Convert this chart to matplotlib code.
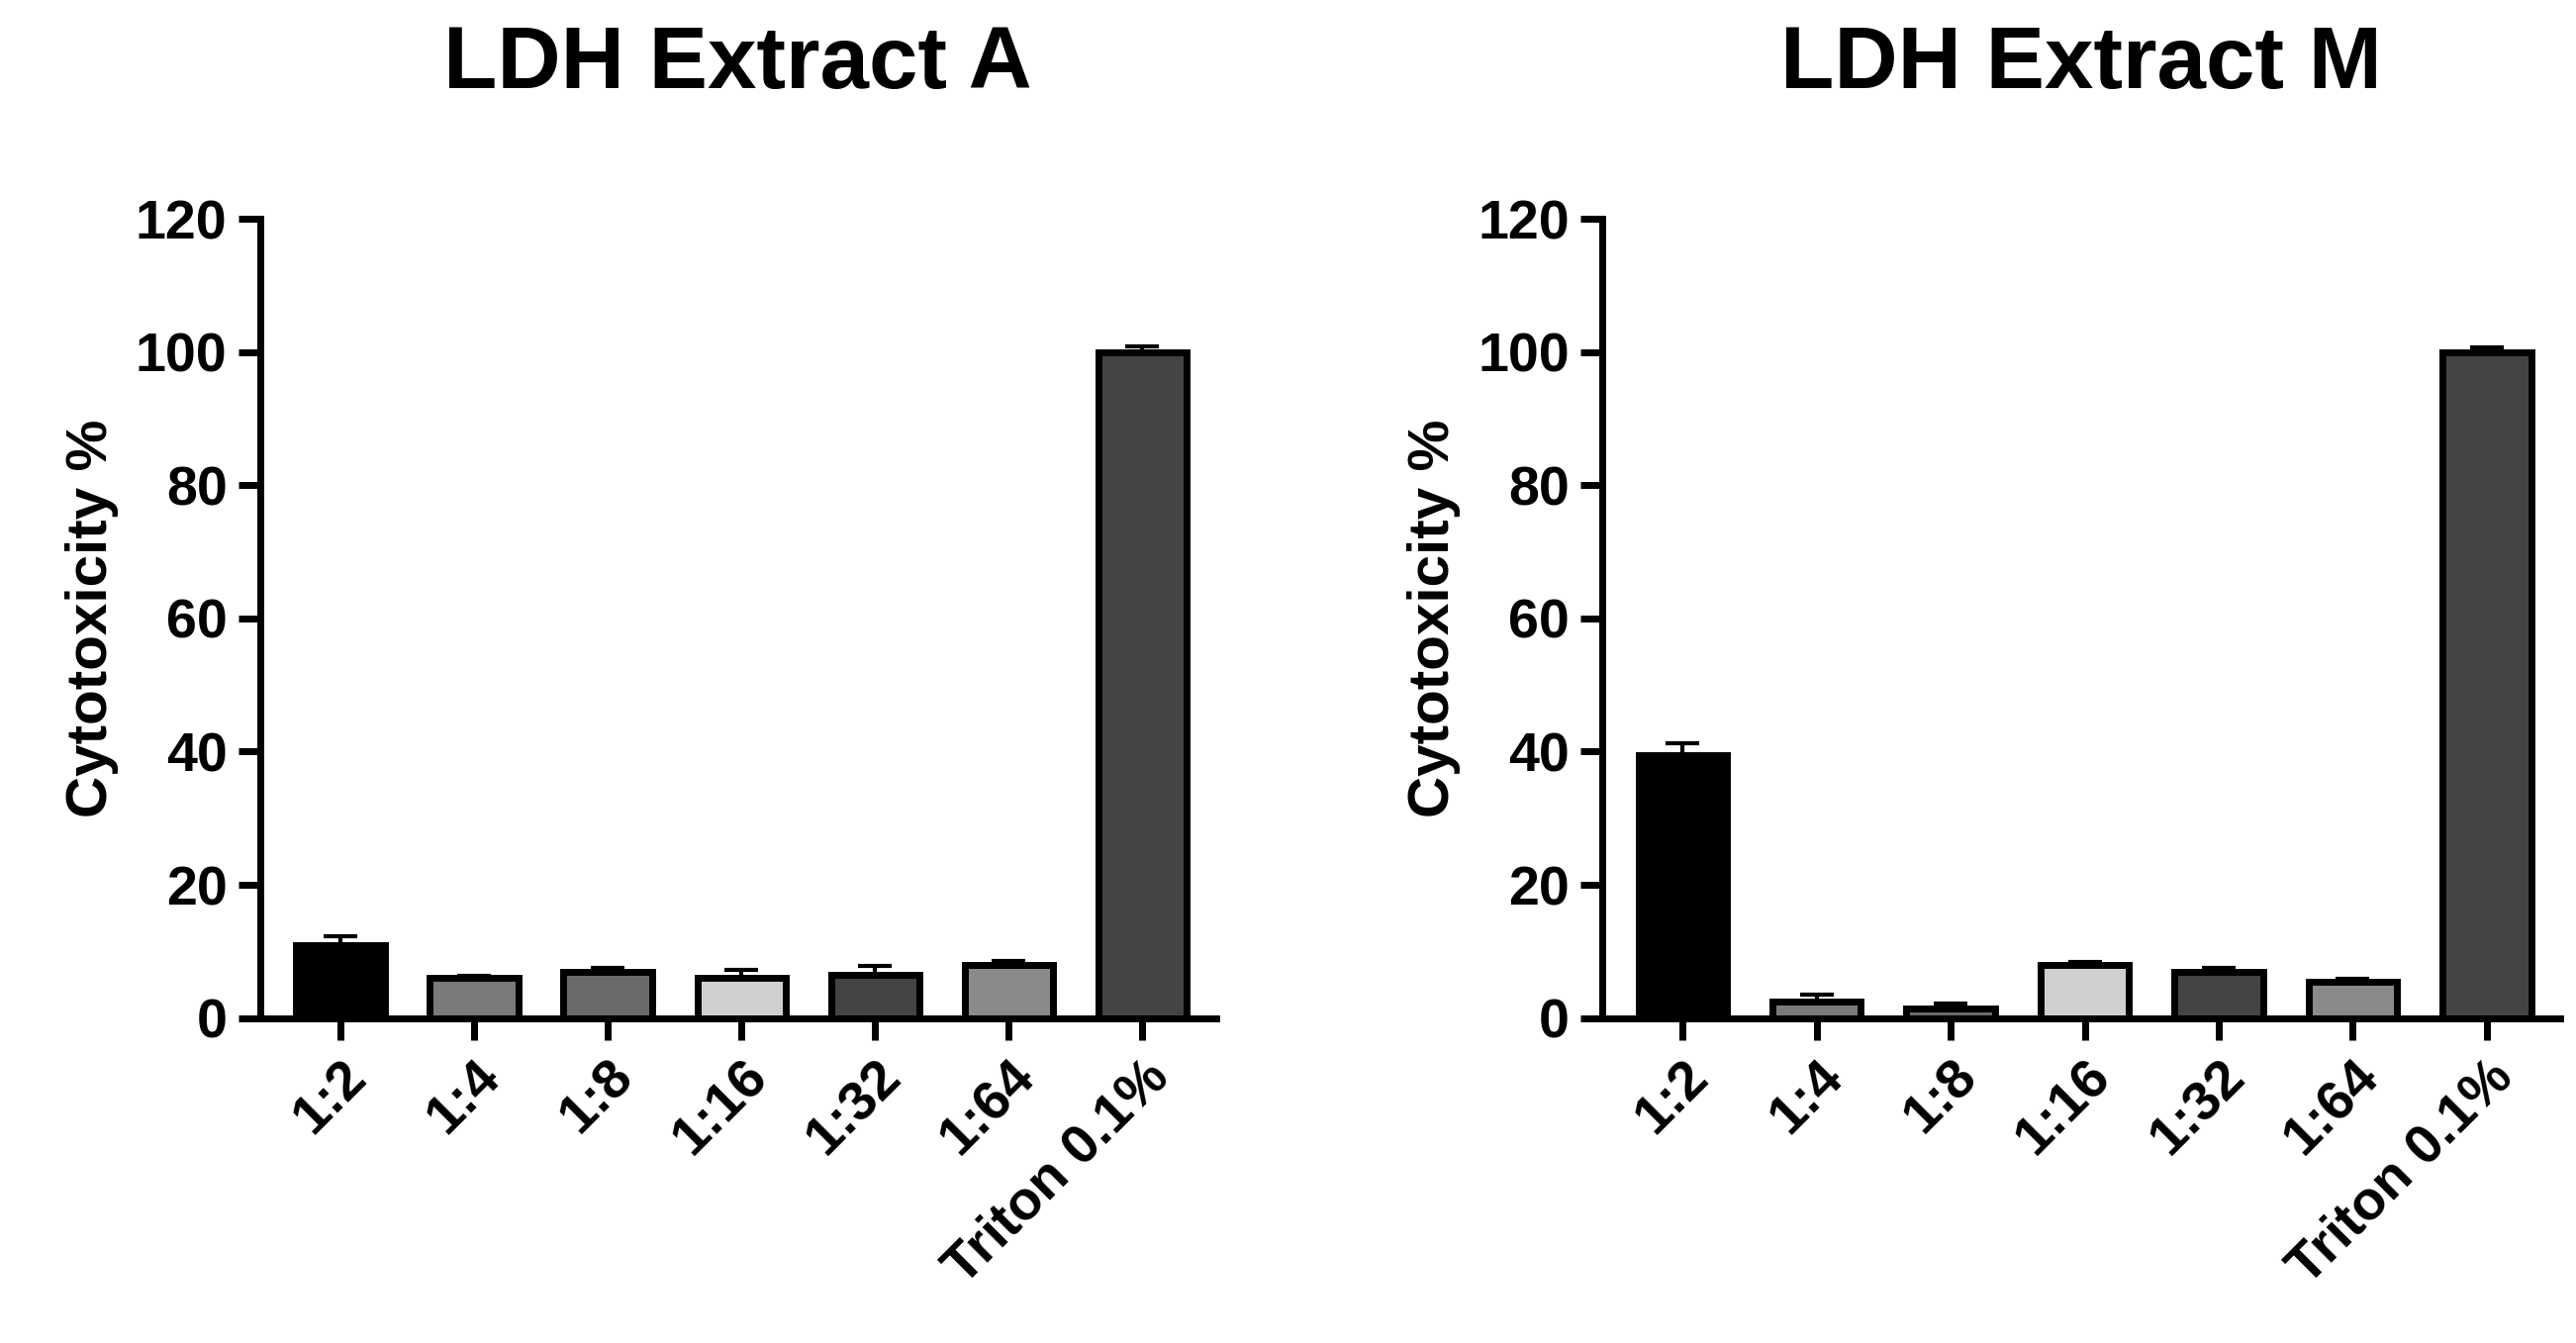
import matplotlib.pyplot as plt
import numpy as np

plt.rcParams['font.family'] = ['Liberation Sans', 'DejaVu Sans']
plt.rcParams['font.weight'] = 'bold'

categories = ['1:2', '1:4', '1:8', '1:16', '1:32', '1:64', 'Triton 0.1%']
colors = ['#000000', '#7a7a7a', '#6a6a6a', '#d0d0d0', '#444444', '#8a8a8a', '#444444']

titles = ['LDH Extract A', 'LDH Extract M']
values_a = [11.0, 6.0, 7.0, 6.0, 6.5, 8.0, 100.0]
errors_a = [1.3, 0.4, 0.5, 1.2, 1.3, 0.5, 0.8]
values_m = [39.5, 2.5, 1.5, 8.0, 7.0, 5.5, 100.0]
errors_m = [1.8, 1.0, 0.6, 0.4, 0.5, 0.4, 0.7]


def draw(ax, title, vals, errs):
    x = np.arange(len(categories))
    ax.bar(x, vals, width=0.66, color=colors, edgecolor='black', linewidth=5,
           yerr=[np.zeros(len(errs)), errs], error_kw=dict(capsize=12, elinewidth=3, capthick=3))
    ax.set_xlim(-0.6, len(categories) - 0.45)
    ax.set_ylim(0, 120)
    ax.set_yticks(range(0, 121, 20))
    ax.set_xticks(x)
    ax.set_xticklabels(categories, rotation=45, ha='right', rotation_mode='anchor')
    ax.tick_params(labelsize=40, width=5, length=16, pad=8)
    ax.spines['top'].set_visible(False)
    ax.spines['right'].set_visible(False)
    ax.spines['left'].set_linewidth(5)
    ax.spines['bottom'].set_linewidth(5)
    ax.set_ylabel('Cytotoxicity %', fontsize=42, fontweight='bold', labelpad=12)
    ax.set_title(title, fontsize=64, fontweight='bold', pad=95)


fig = plt.figure(figsize=(26.03, 13.57), dpi=100)
ax1 = fig.add_axes([0.101, 0.242, 0.371, 0.595])
ax2 = fig.add_axes([0.622, 0.242, 0.372, 0.595])
draw(ax1, titles[0], values_a, errors_a)
draw(ax2, titles[1], values_m, errors_m)
fig.savefig('out.png', dpi=100)
